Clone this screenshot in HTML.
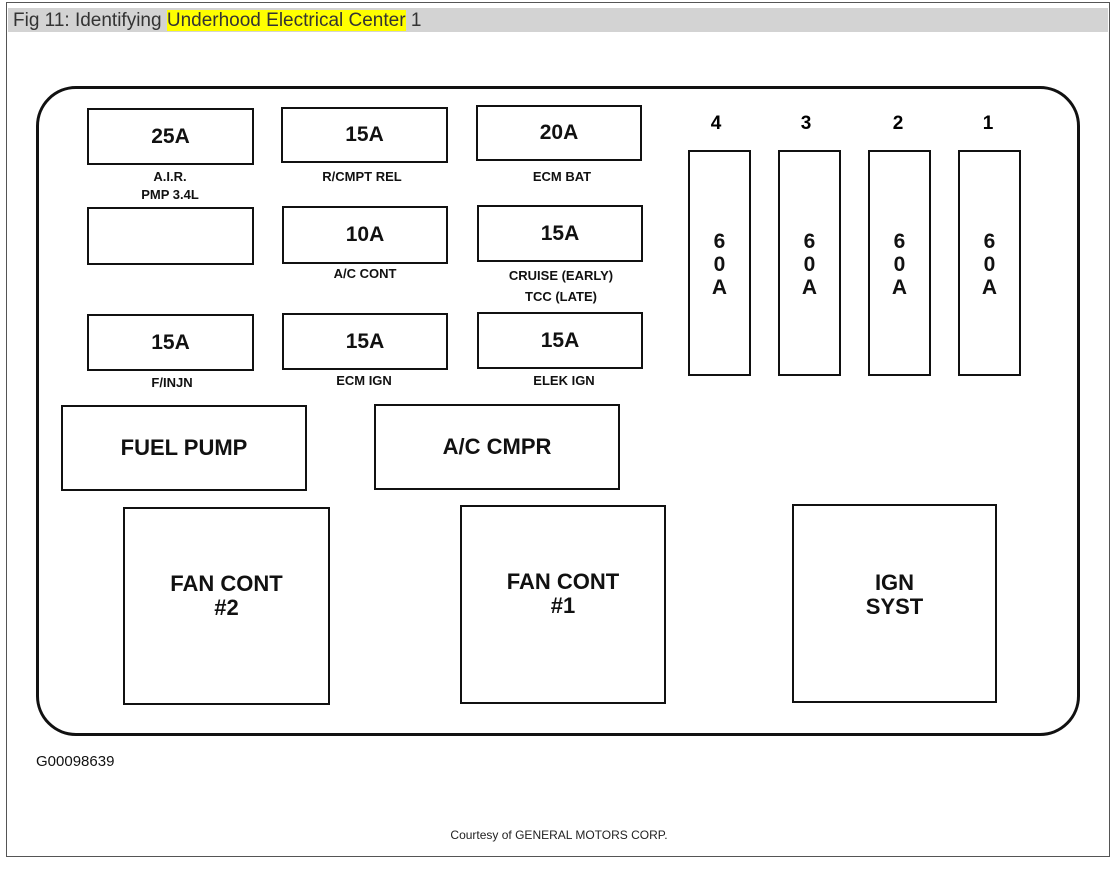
<!DOCTYPE html>
<html><head><style>
body{margin:0;width:1118px;height:876px;background:#fff;position:relative;overflow:hidden;font-family:"Liberation Sans",sans-serif}
.a{position:absolute}
.b{position:absolute;border:2px solid #111;box-sizing:border-box;display:flex;align-items:center;justify-content:center;text-align:center;font-weight:bold;color:#111}
.f{font-size:21px}
.l{position:absolute;font-weight:bold;font-size:13px;color:#111;text-align:center;line-height:18px;transform:translateX(-50%);white-space:nowrap}
.big{font-size:22px;line-height:24px}
.n{position:absolute;font-weight:bold;font-size:19px;transform:translateX(-50%)}
.v{font-size:21px;line-height:23px;align-items:flex-start;padding-top:78px}
</style></head><body>
<div class="a" style="left:6px;top:2px;width:1102px;height:853px;border:1px solid #555"></div>
<div class="a" style="left:8px;top:8px;width:1100px;height:24px;background:#d3d3d3"></div>
<div class="a" style="left:13px;top:10px;font-size:19px;color:#333;line-height:22px;font-family:'Liberation Sans',sans-serif">Fig 11: Identifying <span style="background:#ff0">Underhood Electrical Center</span> 1</div>
<div class="a" style="left:36px;top:86px;width:1044px;height:650px;border:3px solid #111;border-radius:40px;box-sizing:border-box"></div>

<div class="b f" style="left:87px;top:108px;width:167px;height:57px">25A</div>
<div class="b f" style="left:281px;top:107px;width:167px;height:56px">15A</div>
<div class="b f" style="left:476px;top:105px;width:166px;height:56px">20A</div>
<div class="b f" style="left:87px;top:207px;width:167px;height:58px"></div>
<div class="b f" style="left:282px;top:206px;width:166px;height:58px">10A</div>
<div class="b f" style="left:477px;top:205px;width:166px;height:57px">15A</div>
<div class="b f" style="left:87px;top:314px;width:167px;height:57px">15A</div>
<div class="b f" style="left:282px;top:313px;width:166px;height:57px">15A</div>
<div class="b f" style="left:477px;top:312px;width:166px;height:57px">15A</div>

<div class="l" style="left:170px;top:168px">A.I.R.<br>PMP 3.4L</div>
<div class="l" style="left:362px;top:168px">R/CMPT REL</div>
<div class="l" style="left:562px;top:168px">ECM BAT</div>
<div class="l" style="left:365px;top:265px">A/C CONT</div>
<div class="l" style="left:561px;top:265px;line-height:21px">CRUISE (EARLY)<br>TCC (LATE)</div>
<div class="l" style="left:172px;top:374px">F/INJN</div>
<div class="l" style="left:364px;top:372px">ECM IGN</div>
<div class="l" style="left:564px;top:372px">ELEK IGN</div>

<div class="n" style="left:716px;top:113px">4</div>
<div class="n" style="left:806px;top:113px">3</div>
<div class="n" style="left:898px;top:113px">2</div>
<div class="n" style="left:988px;top:113px">1</div>
<div class="b v" style="left:688px;top:150px;width:63px;height:226px">6<br>0<br>A</div>
<div class="b v" style="left:778px;top:150px;width:63px;height:226px">6<br>0<br>A</div>
<div class="b v" style="left:868px;top:150px;width:63px;height:226px">6<br>0<br>A</div>
<div class="b v" style="left:958px;top:150px;width:63px;height:226px">6<br>0<br>A</div>

<div class="b big" style="left:61px;top:405px;width:246px;height:86px">FUEL PUMP</div>
<div class="b big" style="left:374px;top:404px;width:246px;height:86px">A/C CMPR</div>
<div class="b big" style="left:123px;top:507px;width:207px;height:198px;padding-bottom:20px">FAN CONT<br>#2</div>
<div class="b big" style="left:460px;top:505px;width:206px;height:199px;padding-bottom:22px">FAN CONT<br>#1</div>
<div class="b big" style="left:792px;top:504px;width:205px;height:199px;padding-bottom:18px">IGN<br>SYST</div>

<div class="a" style="left:36px;top:753px;font-size:15px;color:#111">G00098639</div>
<div class="a" style="left:0;width:1118px;top:828px;text-align:center;font-size:12px;color:#222">Courtesy of GENERAL MOTORS CORP.</div>
</body></html>
